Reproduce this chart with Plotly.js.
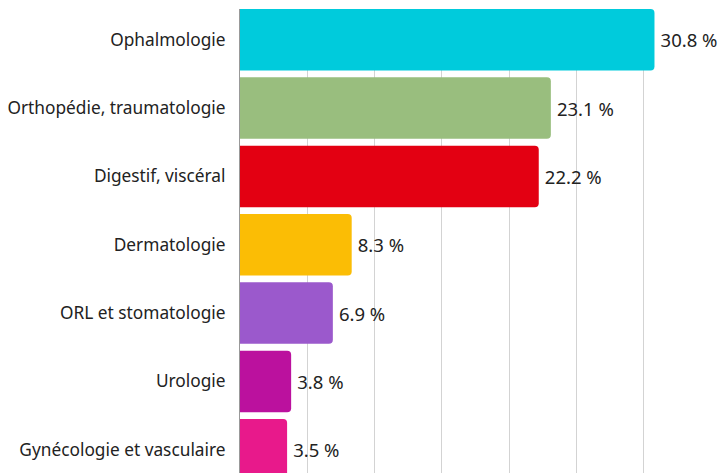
<!DOCTYPE html>
<html>
<head>
<meta charset="utf-8">
<script src="https://cdn.plot.ly/plotly-3.0.1.min.js"></script>
<style>html,body{margin:0;padding:0;background:#fff;}#chart{width:718px;height:473px;}</style>
</head>
<body>
<div id="chart"></div>
<script>
const categories = ["Ophalmologie", "Orthopédie, traumatologie", "Digestif, viscéral", "Dermatologie", "ORL et stomatologie", "Urologie", "Gynécologie et vasculaire"];
const values = [30.8, 23.1, 22.2, 8.3, 6.9, 3.8, 3.5];
const labels = ["30.8 %", "23.1 %", "22.2 %", "8.3 %", "6.9 %", "3.8 %", "3.5 %"];
const colors = ["#00CBDC", "#99BE7E", "#E30012", "#FBBD05", "#9B59CC", "#BB119E", "#E8198B"];

const trace = {
  type: 'bar',
  orientation: 'h',
  y: categories,
  x: values,
  text: labels.map(t => '\u2009' + t),
  textposition: 'outside',
  cliponaxis: false,
  textfont: {family: 'Noto Sans, sans-serif', size: 18.5, color: '#222'},
  marker: {color: colors, cornerradius: 4},
  hoverinfo: 'none'
};

const layout = {
  width: 718, height: 473,
  margin: {l: 240, r: 7, t: 9, b: 0},
  paper_bgcolor: '#fff', plot_bgcolor: '#fff',
  bargap: 0.1,
  showlegend: false,
  font: {family: 'Noto Sans, sans-serif', size: 17.3, color: '#222'},
  xaxis: {
    range: [0, 35], dtick: 5, showticklabels: false,
    showgrid: true, gridcolor: '#d3d3d3', gridwidth: 1,
    zeroline: false, showline: false, fixedrange: true
  },
  yaxis: {
    type: 'category',
    range: [6.34, -0.45],
    showline: true, linecolor: '#999', linewidth: 1,
    ticks: '', ticklabelstandoff: 10,
    showgrid: false, zeroline: false, fixedrange: true,
    tickfont: {family: 'Noto Sans, sans-serif', size: 17.3, color: '#222'}
  }
};

Plotly.newPlot('chart', [trace], layout, {displayModeBar: false, staticPlot: true});
</script>
</body>
</html>
